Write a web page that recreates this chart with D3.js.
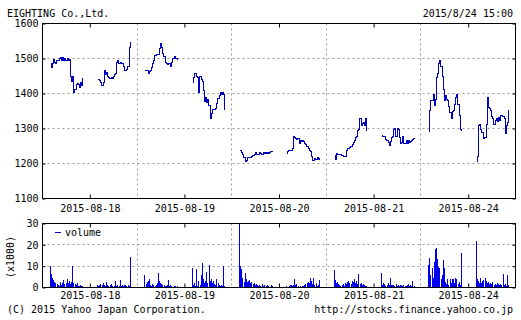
<!DOCTYPE html>
<html><head><meta charset="utf-8">
<script src="https://cdn.jsdelivr.net/npm/d3@7"></script>
<style>
html,body{margin:0;padding:0;background:#fff;}
svg{display:block;}
text{font-family:"DejaVu Sans Mono",monospace;font-size:10px;fill:#000;}
</style></head><body>
<svg id="c" width="521" height="320"></svg>
<script>
const title = "EIGHTING Co.,Ltd.";
const stamp = "2015/8/24 15:00";
const copyright = "(C) 2015 Yahoo Japan Corporation.";
const url = "http://stocks.finance.yahoo.co.jp";
const days = ["2015-08-18","2015-08-19","2015-08-20","2015-08-21","2015-08-24"];
const priceTicks = [1100,1200,1300,1400,1500,1600];
const volumeTicks = [0,10,20,30];

// 5-minute closes: 30 morning bars (9:00-11:30) then 30 afternoon bars (12:30-15:00)
const price0818 = [1486,1476,1488,1498,1490,1488,1497,1497,1500,1503,1495,1505,1497,1500,1497,1500,1496,1498,1450,1435,1450,1405,1412,1428,1430,1428,1420,1432,1425,1443,
                   1440,1440,1438,1432,1424,1432,1467,1456,1462,1450,1448,1445,1448,1445,1450,1457,1458,1490,1497,1486,1490,1487,1486,1478,1467,1467,1470,1480,1533,1547];
const price0819 = [1467,1466,1466,1460,1463,1468,1475,1488,1497,1510,1512,1512,1514,1530,1545,1533,1515,1506,1490,1486,1485,1487,1488,1478,1490,1500,1507,1502,1500,1498,
                   1433,1448,1458,1460,1449,1448,1405,1450,1440,1435,1410,1378,1390,1376,1385,1367,1330,1345,1357,1357,1355,1358,1372,1386,1395,1405,1400,1403,1400,1357];
const price0820 = [1240,1238,1232,1226,1220,1206,1210,1219,1219,1220,1220,1222,1224,1226,1234,1228,1226,1228,1232,1230,1228,1233,1230,1233,1230,1233,1230,1234,1236,1236,
                   1230,1235,1238,1238,1240,1243,1278,1275,1274,1270,1272,1260,1268,1265,1268,1263,1260,1257,1250,1245,1238,1235,1221,1210,1210,1215,1212,1218,1214,1217];
const price0821 = [1225,1212,1230,1228,1228,1226,1226,1224,1222,1221,1222,1240,1243,1244,1248,1250,1257,1262,1268,1276,1280,1295,1298,1331,1310,1316,1318,1310,1330,1295,
                   1281,1280,1278,1278,1270,1266,1262,1252,1265,1275,1280,1300,1302,1278,1302,1298,1276,1260,1262,1278,1260,1260,1268,1260,1268,1262,1265,1266,1270,1272];
const price0824 = [1292,1352,1381,1380,1400,1368,1385,1446,1460,1486,1497,1480,1450,1414,1380,1395,1385,1380,1365,1348,1330,1350,1352,1370,1390,1400,1370,1340,1300,1296,
                   1207,1221,1310,1314,1300,1290,1290,1274,1276,1312,1390,1362,1358,1352,1336,1330,1314,1324,1330,1322,1332,1325,1338,1340,1336,1330,1286,1310,1320,1352];

// volume in thousands, same slots
const volume0818 = [10,6.5,4.5,3.5,2.5,2,1.5,1,0.5,2.5,1,2,3.4,1.5,2,4.2,2,3,1.5,2.5,10,2,1.5,1,2,0.5,0.8,1,0.5,0.5,
                    1,0.5,1,1.5,1,2,1.2,0.8,2.5,1,0.5,1,1.5,0.5,0.3,0.5,3,0.8,1,0.5,3.5,0.5,1,0.5,1,1.2,0.8,1,0.5,14.5];
const volume0819 = [5.7,1.5,2.5,3,4.2,1,0.5,1.5,1,0.5,1,2,7,3,2,1.5,1,1,0.8,0.5,1,3.5,0.5,1,0.5,0.3,0.5,0.5,0.3,0.5,
                    9.2,1,2,0.5,8.8,0.5,3,1,5.8,11.5,4,2,3,7.3,2,10.5,3,4,2,3,1.5,1,4,2,1,0.5,1,0.5,10.3,0.5];
const volume0820 = [30,10,8.5,4.5,2.5,7,4,2.5,3,3.5,2,2.5,1.5,2,1,1.5,1.2,0.8,1,0.5,1.5,0.5,1,0.3,0.5,1,0.5,0.3,1,0.5,
                    0.5,0.3,0.8,1,1.2,0.5,1,4.2,1,1.5,0.5,0.2,0.5,0.2,0.5,0.5,1,1.5,2,2.5,2,4.5,3,1.5,4.5,1,2,0.5,1,3.5];
const volume0821 = [8.4,3.4,2,2.5,1.5,1,0.5,1,1.5,0.8,2,1.5,2.5,3,2,1.5,3,2.5,4.2,2,3,1.5,6.5,1.5,2,1,1.5,1,0.5,0.5,
                    7,1,2,1.5,0.5,1,2,1,4.5,1,1,1,0.5,1.5,0.8,1,0.5,1,1.2,0.5,1,0.8,0.5,1,1.5,0.5,1,0.5,3.2,0.8];
const volume0824 = [10.4,14,5.8,9,4.5,12,18,18.6,13.5,9.7,9.2,4,6,12.8,9.2,2.5,1.5,4.2,1,3.8,2,4.2,3.8,2,4.5,4,1.5,2.5,1,16,
                    21.7,4,3,2,4.5,2,3,3.5,4.5,3,2,2.5,1.5,2,1.5,2.5,1,1.5,1,2,1.5,1,1.5,1,6.5,1,1.5,0.5,5.8,1];

const priceSeries = [price0818, price0819, price0820, price0821, price0824];
const volumeSeries = [volume0818, volume0819, volume0820, volume0821, volume0824];

const svg = d3.select("#c");
const L = 42.5, R = 515.5, PT = 23.5, PB = 198.5, VT = 223.5, VB = 287.5;
const DAY = 420; // minutes 8:30-15:30 per day
const x = d3.scaleLinear().domain([0, days.length * DAY]).range([L, R]);
const yP = d3.scaleLinear().domain([1100, 1600]).range([PB, PT]);
const yV = d3.scaleLinear().domain([0, 30]).range([VB, VT]);
const slotT = (d, i) => d * DAY + (i < 30 ? 30 + 5 * i : 240 + 5 * (i - 30)) + 2.5;
const bounds = d3.range(1, days.length).map(d => d * DAY);
const mids = d3.range(days.length).map(d => d * DAY + DAY / 2);
const px = v => Math.round(x(v) - 0.5) + 0.5;

function grid(top, bottom, yScale, vals) {
  const g = svg.append("g").attr("stroke", "#999").attr("stroke-dasharray", "2,3").attr("stroke-width", 1);
  g.selectAll("line.h").data(vals).join("line").attr("class", "h")
    .attr("x1", L).attr("x2", R)
    .attr("y1", d => Math.round(yScale(d) - 0.5) + 0.5).attr("y2", d => Math.round(yScale(d) - 0.5) + 0.5);
  g.selectAll("line.v").data(bounds).join("line").attr("class", "v")
    .attr("x1", px).attr("x2", px).attr("y1", top).attr("y2", bottom);
}
grid(PT, PB, yP, priceTicks.slice(1, -1));
grid(VT, VB, yV, volumeTicks.slice(1, -1));

// volume bars
const vg = svg.append("g").attr("fill", "#0000f0").attr("shape-rendering", "crispEdges");
volumeSeries.forEach((arr, d) => {
  vg.selectAll(null).data(arr.map((v, i) => ({t: slotT(d, i), v}))).join("rect")
    .attr("x", p => Math.round(x(p.t))).attr("width", 1)
    .attr("y", p => Math.round(yV(p.v))).attr("height", p => VB - 0.5 - Math.round(yV(p.v)));
});

// price lines
const line = d3.line().x(p => Math.round(x(p.t)) + 0.5).y(p => Math.round(yP(p.v)) + 0.5).curve(d3.curveStep);
const lg = svg.append("g").attr("fill", "none").attr("stroke", "#0000c0").attr("stroke-width", 1)
  .attr("shape-rendering", "crispEdges");
priceSeries.forEach((arr, d) => {
  [0, 1].forEach(s => {
    const seg = arr.slice(s * 30, s * 30 + 30).map((v, k) => ({t: slotT(d, s * 30 + k), v}));
    lg.append("path").attr("d", line(seg));
  });
});

// frames
[[PT, PB], [VT, VB]].forEach(([t, b]) => {
  svg.append("rect").attr("x", L).attr("y", t).attr("width", R - L).attr("height", b - t)
    .attr("fill", "none").attr("stroke", "#000").attr("stroke-width", 1);
});

function styleAxis(g) {
  g.select(".domain").remove();
  g.selectAll(".tick line").attr("stroke", "#000");
  g.selectAll("text").attr("font-family", null).attr("font-size", null).attr("fill", "#000");
}
// price axes
svg.append("g").attr("transform", `translate(${L},0)`)
  .call(d3.axisLeft(yP).tickValues(priceTicks).tickSize(-3).tickPadding(4).tickFormat(d3.format("d"))).call(styleAxis);
svg.append("g").attr("transform", `translate(${R},0)`)
  .call(d3.axisRight(yP).tickValues(priceTicks).tickSize(-3).tickFormat("")).call(styleAxis);
svg.append("g").attr("transform", `translate(0,${PT})`)
  .call(d3.axisTop(x).tickValues(mids).tickSize(-4).tickFormat("")).call(styleAxis);
svg.append("g").attr("transform", `translate(0,${PB})`)
  .call(d3.axisBottom(x).tickValues(mids).tickSize(-4).tickPadding(6).tickFormat((d, i) => days[i])).call(styleAxis);
// volume axes
svg.append("g").attr("transform", `translate(${L},0)`)
  .call(d3.axisLeft(yV).tickValues(volumeTicks).tickSize(-3).tickPadding(4).tickFormat(d3.format("d"))).call(styleAxis);
svg.append("g").attr("transform", `translate(${R},0)`)
  .call(d3.axisRight(yV).tickValues(volumeTicks).tickSize(-3).tickFormat("")).call(styleAxis);
svg.append("g").attr("transform", `translate(0,${VT})`)
  .call(d3.axisTop(x).tickValues(mids).tickSize(-4).tickFormat("")).call(styleAxis);
svg.append("g").attr("transform", `translate(0,${VB})`)
  .call(d3.axisBottom(x).tickValues(mids).tickSize(-4).tickPadding(4).tickFormat((d, i) => days[i])).call(styleAxis);

// texts
svg.append("text").attr("x", 7).attr("y", 17).text(title);
svg.append("text").attr("x", 513).attr("y", 17).attr("text-anchor", "end").text(stamp);
svg.append("text").attr("x", 7).attr("y", 313).text(copyright);
svg.append("text").attr("x", 513).attr("y", 313).attr("text-anchor", "end").text(url);
svg.append("text").attr("transform", "translate(14,257) rotate(-90)").attr("text-anchor", "middle").text("(x1000)");
// legend
svg.append("line").attr("x1", 55).attr("x2", 61).attr("y1", 232.5).attr("y2", 232.5).attr("stroke", "#0000c0");
svg.append("text").attr("x", 65).attr("y", 236).text("volume");
</script>
</body></html>
